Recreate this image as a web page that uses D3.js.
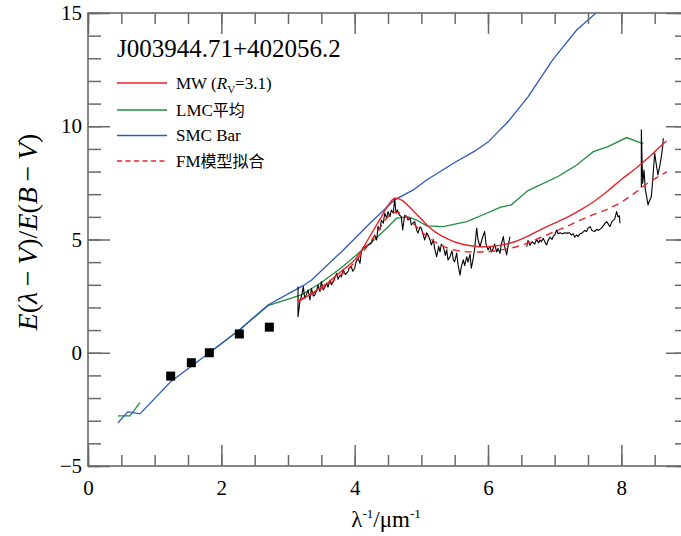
<!DOCTYPE html>
<html>
<head>
<meta charset="utf-8">
<script src="https://cdn.jsdelivr.net/npm/d3@7"></script>
<style>
html,body{margin:0;padding:0;background:#fff;}
svg{display:block;}
</style>
</head>
<body>
<svg id="chart" width="681" height="536"></svg>
<script>
// ---------------- DATA ----------------
const title = "J003944.71+402056.2";
const legendLabels = [["MW", ""], ["LMC", "平均"], ["SMC Bar", ""], ["FM", "模型拟合"]];
const xMajorTicks = [0, 2, 4, 6, 8];
const xMinorTicks = [0,0.5,1,1.5,2,2.5,3,3.5,4,4.5,5,5.5,6,6.5,7,7.5,8,8.5,9];
const yMajorTicks = [-5, 0, 5, 10, 15];
const yMinorTicks = [-5,-4,-3,-2,-1,0,1,2,3,4,5,6,7,8,9,10,11,12,13,14,15];

// photometric points (I, R, V, B, U)
const photX = [1.24, 1.55, 1.82, 2.27, 2.72];
const photY = [-1.03, -0.44, 0.0, 0.83, 1.13];

// SMC Bar (blue)
const smcX = [0.45, 0.6, 0.78, 1.24, 1.82, 2.27, 2.7, 3.22, 3.35, 3.83, 4.23, 4.6, 4.88, 5.08, 5.5, 5.8, 6.0, 6.3, 6.6, 6.97, 7.33, 7.62];
const smcY = [-3.09, -2.6, -2.7, -1.28, 0.0, 1.0, 2.11, 2.95, 3.2, 4.54, 5.72, 6.75, 7.19, 7.63, 8.4, 8.9, 9.3, 10.2, 11.3, 12.93, 14.25, 15.0];

// LMC average (green): near-IR part and optical/UV part
const lmcIrX = [0.45, 0.63, 0.78];
const lmcIrY = [-2.79, -2.79, -2.2];
const lmcX = [1.82, 2.27, 2.7, 3.2, 3.5, 3.8, 4.1, 4.3, 4.48, 4.63, 4.8, 4.93, 5.08, 5.33, 5.68, 5.98, 6.18, 6.35, 6.6, 7.05, 7.33, 7.58, 7.8, 8.08, 8.33];
const lmcY = [0.0, 1.0, 2.08, 2.55, 3.1, 3.75, 4.5, 5.0, 5.5, 5.94, 6.0, 5.86, 5.6, 5.57, 5.79, 6.16, 6.42, 6.53, 7.16, 7.78, 8.29, 8.88, 9.1, 9.5, 9.22];

// MW R_V=3.1 (red solid)
const mwX = [3.15, 3.4, 3.6, 3.8, 4.0, 4.1, 4.2, 4.3, 4.4, 4.5, 4.6, 4.7, 4.8, 4.9, 5.0, 5.1, 5.2, 5.4, 5.6, 5.8, 6.0, 6.2, 6.4, 6.6, 6.8, 7.0, 7.2, 7.4, 7.6, 7.8, 8.0, 8.2, 8.4, 8.6, 8.68];
const mwY = [2.25, 2.7, 3.1, 3.6, 4.1, 4.5, 5.0, 5.5, 6.0, 6.5, 6.82, 6.75, 6.5, 6.2, 5.9, 5.6, 5.35, 5.02, 4.8, 4.7, 4.68, 4.75, 4.9, 5.15, 5.45, 5.72, 6.0, 6.33, 6.7, 7.15, 7.65, 8.1, 8.6, 9.15, 9.35];

// FM model fit (red dashed)
const fmX = [3.15, 3.4, 3.6, 3.8, 4.0, 4.2, 4.4, 4.5, 4.6, 4.7, 4.8, 4.9, 5.0, 5.2, 5.4, 5.6, 5.8, 6.0, 6.2, 6.4, 6.6, 6.8, 7.0, 7.2, 7.4, 7.6, 7.8, 8.0, 8.2, 8.4, 8.6, 8.68];
const fmY = [2.3, 2.65, 3.0, 3.45, 4.0, 4.75, 5.6, 6.0, 6.2, 6.15, 5.95, 5.65, 5.35, 4.9, 4.62, 4.48, 4.45, 4.47, 4.54, 4.66, 4.85, 5.1, 5.35, 5.6, 5.88, 6.12, 6.35, 6.65, 7.05, 7.5, 7.85, 8.0];

// observed extinction curve (black), three segments
const spec1X = [3.15,3.15,3.18,3.2,3.23,3.25,3.28,3.3,3.33,3.35,3.38,3.4,3.43,3.45,3.48,3.5,3.53,3.56,3.58,3.6,3.63,3.65,3.68,3.7,3.73,3.75,3.78,3.8,3.83,3.86,3.9,3.92,3.95,3.97,4.0,4.02,4.05,4.08,4.1,4.12,4.25,4.28,4.3,4.33,4.35,4.38,4.4,4.43,4.45,4.48,4.5,4.53,4.55,4.58,4.6,4.62,4.64,4.67,4.7,4.72,4.75,4.78,4.8,4.83,4.85,4.88,4.9,4.93,4.95,4.98,5.0,5.02,5.05,5.08,5.1,5.13,5.15,5.18,5.2,5.23,5.26,5.28,5.3,5.33,5.36,5.38,5.4,5.43,5.46,5.48,5.5,5.53,5.55,5.58,5.6,5.63,5.65,5.68,5.7,5.73,5.75,5.78,5.8,5.83,5.85,5.88,5.9,5.93,5.95,5.97,6.0,6.03,6.05,6.08,6.1,6.13,6.15,6.18,6.2,6.23,6.25,6.28,6.3,6.33];
const spec1Y = [2.92,1.59,2.3,2.48,2.92,2.41,2.6,2.77,2.33,2.85,2.5,2.55,2.75,2.99,2.7,3.14,2.77,2.95,3.07,2.9,3.21,3.0,3.14,3.3,3.51,3.25,3.43,3.35,3.66,3.45,3.58,3.75,3.8,3.6,3.73,4.0,4.17,3.95,4.46,4.61,4.83,5.05,5.2,4.98,5.57,5.42,5.86,5.72,6.16,5.94,6.23,6.01,6.3,6.16,6.82,6.16,6.3,6.08,6.01,5.42,6.08,6.01,5.86,5.95,5.64,5.75,5.79,5.42,5.28,5.55,5.5,5.28,4.98,5.3,5.2,4.98,4.76,5.0,4.6,4.24,4.7,4.45,4.8,4.68,4.3,4.55,4.1,4.24,4.5,4.1,4.02,4.4,3.9,3.43,3.8,4.1,3.85,4.24,4.0,4.35,3.73,4.2,4.6,5.5,5.0,4.68,4.9,5.2,5.35,4.8,4.54,4.7,4.45,4.61,4.8,4.45,4.6,4.39,4.8,5.13,4.7,4.32,4.7,5.13];
const spec2X = [6.58,6.6,6.63,6.66,6.7,6.73,6.76,6.78,6.8,6.83,6.86,6.88,6.9,6.93,6.96,6.98,7.0,7.03,7.05,7.08,7.12,7.15,7.18,7.22,7.25,7.28,7.3,7.33,7.35,7.38,7.42,7.45,7.48,7.5,7.53,7.56,7.6,7.63,7.66,7.7,7.73,7.75,7.78,7.8,7.83,7.86,7.9,7.93,7.95,7.97,7.98];
const spec2Y = [4.68,4.95,4.75,4.9,4.8,5.0,4.85,4.98,4.9,5.05,4.85,4.76,4.95,5.1,5.0,5.15,5.2,5.42,5.25,5.3,5.25,5.3,5.28,5.3,5.2,5.25,5.1,5.2,5.13,5.25,5.3,5.4,5.35,5.5,5.57,5.4,5.35,5.45,5.4,5.5,5.6,5.7,5.79,5.7,5.57,5.8,5.9,6.23,6.0,6.05,5.72];
const spec3X = [8.3,8.3,8.32,8.34,8.36,8.38,8.4,8.42,8.45,8.47,8.5,8.53,8.55,8.58,8.6,8.62,8.63];
const spec3Y = [7.3,9.84,7.48,8.07,7.2,6.89,6.53,6.7,6.89,7.6,8.81,8.2,7.85,8.3,8.66,9.1,9.47];

// ---------------- CHART ----------------
const svg = d3.select("#chart");
const L = 88, T = 13, R = 688, B = 466;
const x = d3.scaleLinear().domain([0, 9]).range([L, R]);
const y = d3.scaleLinear().domain([-5, 15]).range([B, T]);

const cRed = "#e8232b", cGreen = "#1f8c3e", cBlue = "#2e59bd", axisCol = "#6a6a6a";
const SERIF = "'Liberation Serif'";
const CJK = "'Noto Sans CJK SC'";

svg.append("defs").append("clipPath").attr("id", "clip")
  .append("rect").attr("x", L).attr("y", T).attr("width", R - L).attr("height", B - T);

const zip = (xs, ys) => xs.map((v, i) => [v, ys[i]]);
const lineLin = d3.line().x(d => x(d[0])).y(d => y(d[1]));
const lineSmooth = d3.line().x(d => x(d[0])).y(d => y(d[1])).curve(d3.curveCatmullRom.alpha(0.5));

const plot = svg.append("g").attr("clip-path", "url(#clip)");

[[lmcIrX, lmcIrY], [lmcX, lmcY]].forEach(([gx, gy]) => {
  plot.append("path").attr("d", lineLin(zip(gx, gy)))
    .attr("fill", "none").attr("stroke", cGreen).attr("stroke-width", 1.3);
});
plot.append("path").attr("d", lineLin(zip(smcX, smcY)))
  .attr("fill", "none").attr("stroke", cBlue).attr("stroke-width", 1.3);
[[spec1X, spec1Y], [spec2X, spec2Y], [spec3X, spec3Y]].forEach(([sx, sy]) => {
  plot.append("path").attr("d", lineLin(zip(sx, sy)))
    .attr("fill", "none").attr("stroke", "#000").attr("stroke-width", 1.1).attr("stroke-linejoin", "round");
});
plot.append("path").attr("d", lineSmooth(zip(mwX, mwY)))
  .attr("fill", "none").attr("stroke", cRed).attr("stroke-width", 1.4);
plot.append("path").attr("d", lineSmooth(zip(fmX, fmY)))
  .attr("fill", "none").attr("stroke", cRed).attr("stroke-width", 1.4).attr("stroke-dasharray", "7,5");

plot.selectAll("rect.pt").data(zip(photX, photY)).enter().append("rect")
  .attr("class", "pt")
  .attr("x", d => x(d[0]) - 4.5).attr("y", d => y(d[1]) - 4.5)
  .attr("width", 9).attr("height", 9).attr("fill", "#000");

// ---------- axes (ticks inward on all four sides) ----------
function styleAxis(g) {
  g.attr("font-family", null).attr("font-size", null);
  g.select(".domain").remove();
  g.selectAll(".tick line").attr("stroke", axisCol).attr("stroke-width", 1.5);
  g.selectAll(".tick text").style("font-size", "21px").style("font-family", SERIF).style("fill", "#000");
}
const noLab = () => "";
const fmtNum = d => (d < 0 ? "\u2212" + Math.abs(d) : "" + d);

svg.append("g").attr("transform", `translate(0,${B})`)
  .call(d3.axisBottom(x).tickValues(xMinorTicks).tickSizeInner(-11).tickSizeOuter(0).tickFormat(noLab)).call(styleAxis);
svg.append("g").attr("transform", `translate(0,${B})`)
  .call(d3.axisBottom(x).tickValues(xMajorTicks).tickSizeInner(-21).tickSizeOuter(0).tickPadding(14).tickFormat(fmtNum)).call(styleAxis);
svg.append("g").attr("transform", `translate(0,${T})`)
  .call(d3.axisTop(x).tickValues(xMinorTicks).tickSizeInner(-11).tickSizeOuter(0).tickFormat(noLab)).call(styleAxis);
svg.append("g").attr("transform", `translate(0,${T})`)
  .call(d3.axisTop(x).tickValues(xMajorTicks).tickSizeInner(-21).tickSizeOuter(0).tickFormat(noLab)).call(styleAxis);

svg.append("g").attr("transform", `translate(${L},0)`)
  .call(d3.axisLeft(y).tickValues(yMinorTicks).tickSizeInner(-13).tickSizeOuter(0).tickFormat(noLab)).call(styleAxis);
svg.append("g").attr("transform", `translate(${L},0)`)
  .call(d3.axisLeft(y).tickValues(yMajorTicks).tickSizeInner(-22).tickSizeOuter(0).tickPadding(6).tickFormat(fmtNum)).call(styleAxis);
svg.append("g").attr("transform", `translate(${R},0)`)
  .call(d3.axisRight(y).tickValues(yMinorTicks).tickSizeInner(-13).tickSizeOuter(0).tickFormat(noLab)).call(styleAxis);
svg.append("g").attr("transform", `translate(${R},0)`)
  .call(d3.axisRight(y).tickValues(yMajorTicks).tickSizeInner(-22).tickSizeOuter(0).tickFormat(noLab)).call(styleAxis);

// frame
svg.append("rect").attr("x", L).attr("y", T).attr("width", R - L).attr("height", B - T)
  .attr("fill", "none").attr("stroke", axisCol).attr("stroke-width", 1.6);

// ---------- title ----------
svg.append("text").attr("x", 117).attr("y", 57)
  .style("font-size", "25px").style("font-family", SERIF).style("fill", "#000").text(title);

// ---------- legend ----------
const legY = [83, 110, 135.5, 161];
const legCol = [cRed, cGreen, cBlue, cRed];
const legDash = [null, null, null, "5,3.5"];
legY.forEach((ly, i) => {
  svg.append("line").attr("x1", 117).attr("x2", 167).attr("y1", ly).attr("y2", ly)
    .attr("stroke", legCol[i]).attr("stroke-width", 1.3).attr("stroke-dasharray", legDash[i]);
  const t = svg.append("text").attr("x", 176).attr("y", ly + 5.5)
    .style("font-size", "17px").style("font-family", SERIF).style("fill", "#000");
  if (i === 0) {
    t.append("tspan").text(legendLabels[0][0] + " (");
    t.append("tspan").style("font-style", "italic").text("R");
    t.append("tspan").style("font-size", "11px").attr("dy", 4).text("V");
    t.append("tspan").attr("dy", -4).text("=3.1)");
  } else {
    t.append("tspan").text(legendLabels[i][0]);
    if (legendLabels[i][1]) t.append("tspan").style("font-family", CJK).style("font-size", "16px").text(legendLabels[i][1]);
  }
});

// ---------- axis labels ----------
const xl = svg.append("text").attr("x", 386).attr("y", 527).attr("text-anchor", "middle")
  .style("font-size", "23px").style("font-family", SERIF).style("fill", "#000");
xl.append("tspan").text("λ");
xl.append("tspan").style("font-size", "13px").attr("dy", -9).text("-1");
xl.append("tspan").attr("dy", 9).text("/μm");
xl.append("tspan").style("font-size", "13px").attr("dy", -9).text("-1");

const yl = svg.append("text").attr("transform", "translate(37,232) rotate(-90)")
  .attr("text-anchor", "middle")
  .style("font-size", "28px").style("font-family", SERIF).style("fill", "#000");
const ylParts = [["E", true], ["(", false], ["λ", true], ["\u2009\u2212\u2009", false], ["V", true], [")/", false],
                 ["E", true], ["(", false], ["B", true], ["\u2009\u2212\u2009", false], ["V", true], [")", false]];
ylParts.forEach(([s, it]) => {
  const ts = yl.append("tspan").text(s);
  if (it) ts.style("font-style", "italic");
});
</script>
</body>
</html>
